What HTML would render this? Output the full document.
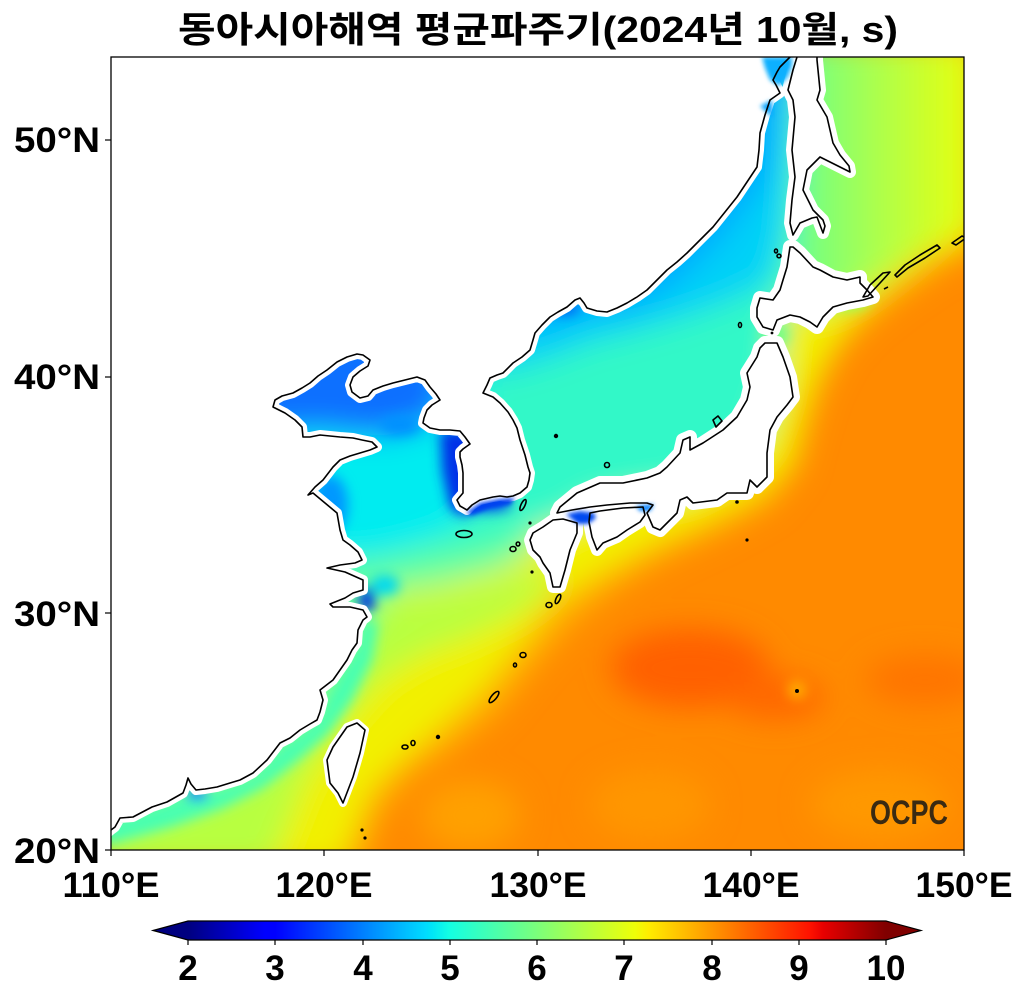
<!DOCTYPE html>
<html><head><meta charset="utf-8"><style>html,body{margin:0;padding:0;background:#fff}svg{display:block}</style></head>
<body>
<svg width="1025" height="1000" viewBox="0 0 1025 1000" xmlns="http://www.w3.org/2000/svg" font-family="'Liberation Sans','Noto Sans CJK KR',sans-serif">
<defs>
<clipPath id="plot"><rect x="111" y="57" width="853" height="793"/></clipPath>
<filter id="bigblur" filterUnits="userSpaceOnUse" x="0" y="0" width="1025" height="1000"><feGaussianBlur stdDeviation="15"/></filter>
<filter id="midblur" filterUnits="userSpaceOnUse" x="0" y="0" width="1025" height="1000"><feGaussianBlur stdDeviation="6"/></filter>
<filter id="smblur" filterUnits="userSpaceOnUse" x="0" y="0" width="1025" height="1000"><feGaussianBlur stdDeviation="2"/></filter>
<linearGradient id="okh" gradientUnits="userSpaceOnUse" x1="800" y1="0" x2="964" y2="0">
<stop offset="0" stop-color="#70ff84"/><stop offset="0.5" stop-color="#b0ff48"/><stop offset="1" stop-color="#e4ff10"/></linearGradient>
<linearGradient id="jet" x1="0" y1="0" x2="1" y2="0">
<stop offset="0" stop-color="#000080"/><stop offset="0.11" stop-color="#0000ff"/><stop offset="0.125" stop-color="#0000ff"/>
<stop offset="0.34" stop-color="#00dbff"/><stop offset="0.35" stop-color="#00e6f7"/><stop offset="0.375" stop-color="#14ffe2"/>
<stop offset="0.5" stop-color="#7bff7b"/><stop offset="0.64" stop-color="#eeff08"/><stop offset="0.66" stop-color="#ffec00"/>
<stop offset="0.89" stop-color="#ff1300"/><stop offset="0.91" stop-color="#e80000"/><stop offset="1" stop-color="#800000"/>
</linearGradient>
</defs>

<text x="538" y="42" text-anchor="middle" font-size="36" font-weight="bold" textLength="720" lengthAdjust="spacingAndGlyphs">동아시아해역 평균파주기(2024년 10월, s)</text>

<g clip-path="url(#plot)">
<rect x="111" y="57" width="853" height="793" fill="#ff8a00"/>
<g filter="url(#bigblur)">
<ellipse cx="690" cy="668" rx="80" ry="40" fill="#ff6000"/>
<ellipse cx="775" cy="698" rx="50" ry="22" fill="#ff6800"/>
<ellipse cx="925" cy="680" rx="60" ry="25" fill="#ff7400"/>
<ellipse cx="470" cy="815" rx="50" ry="35" fill="#ffa000"/>
<ellipse cx="650" cy="805" rx="60" ry="35" fill="#ff9600"/>
<ellipse cx="880" cy="805" rx="70" ry="35" fill="#ff9800"/>
<polygon fill="#ffb000" points="90,40 980,40 980,248 940,268 900,295 865,322 840,350 820,390 808,430 798,470 770,505 720,532 660,560 612,590 570,625 535,665 498,712 450,750 410,775 380,815 360,870 90,870"/>
<polygon fill="#f2f000" points="90,40 980,40 980,235 930,258 890,287 858,318 835,345 815,380 802,420 792,460 762,492 712,518 652,545 597,575 555,600 522,642 480,692 440,728 405,758 370,790 340,870 90,870"/>
<polygon fill="#b8ff40" points="90,560 340,590 400,600 470,590 540,570 560,580 520,612 470,636 420,655 380,680 345,720 305,780 270,870 90,870"/>
<polygon fill="url(#okh)" points="785,40 980,40 980,222 935,245 895,270 860,292 830,305 800,312 785,300"/>
<polygon fill="#60ffa0" points="90,540 350,540 420,550 520,530 540,545 500,570 440,585 390,592 365,620 350,660 330,700 300,735 260,770 200,800 140,820 90,830"/>
<polygon fill="#30f8c8" points="90,40 800,40 797,200 792,260 780,330 775,390 758,440 720,470 680,490 640,495 600,502 570,520 545,530 505,535 470,545 420,552 370,562 330,560 90,560"/>
<polygon fill="#00ecf0" points="90,300 300,300 480,380 485,450 478,500 450,530 405,548 362,558 330,556 90,556"/>
<polygon fill="#00d0f8" points="470,40 795,40 792,150 785,230 770,280 730,300 680,318 630,332 590,342 550,358 500,372 470,362"/>
<polygon fill="#00aaff" points="520,40 790,40 782,110 766,180 720,240 674,284 630,310 586,314 556,326 520,330"/>
<polygon fill="#0a70ff" points="240,330 380,330 445,360 448,405 425,426 385,436 350,434 318,430 298,432 240,432"/>
</g>
<g filter="url(#midblur)">
<polygon fill="#48ffb0" points="105,822 120,818 152,807 183,795 217,789 253,775 280,746 300,732 320,714 326,698 340,672 357,645 362,620 378,622 372,660 352,700 328,734 298,760 262,788 222,808 172,826 122,840 105,845"/>
<ellipse cx="400" cy="425" rx="20" ry="10" fill="#0090ff"/>
<polygon fill="#0030e8" points="440,430 500,430 500,505 462,516 450,508 442,470"/>
<ellipse cx="487" cy="505" rx="25" ry="7" fill="#0050f0"/>
<ellipse cx="330" cy="505" rx="18" ry="30" fill="#0098ff"/>
<ellipse cx="367" cy="600" rx="8" ry="13" fill="#0030e0"/>
<ellipse cx="385" cy="585" rx="14" ry="10" fill="#00d8f0"/>
<ellipse cx="197" cy="794" rx="11" ry="6" fill="#0060ff"/>
<ellipse cx="565" cy="308" rx="14" ry="6" fill="#0058f0"/>
<ellipse cx="775" cy="335" rx="14" ry="10" fill="#70ff80"/>
<ellipse cx="850" cy="300" rx="20" ry="10" fill="#98ff58"/>
<ellipse cx="797" cy="690" rx="9" ry="9" fill="#ffb000"/>
</g>

<g fill="#fff" stroke="#fff" stroke-linejoin="round">
<polygon stroke-width="10" points="105,835 111,830 115,827 120,818 133,817 152,807 167,802 183,793 186,785 188,778 191,784 196,790 205,789 217,787 230,783 240,780 253,773 267,760 280,743 290,738 300,730 310,724 317,720 320,712 323,700 320,690 333,680 340,670 347,660 352,650 357,643 358,630 363,620 367,617 363,610 350,607 333,607 330,604 345,598 353,593 363,590 363,580 345,572 327,568 340,565 355,563 362,560 358,552 350,545 343,540 340,530 337,513 325,503 313,493 308,495 315,487 323,480 333,467 340,460 350,456 360,453 370,450 377,447 372,442 362,440 353,438 340,437 330,436 320,435 310,437 303,437 302,427 295,420 285,413 273,407 275,400 282,396 293,393 302,388 310,383 318,376 327,370 337,362 347,357 357,354 363,355 370,360 368,366 360,371 353,377 350,385 352,392 360,398 368,396 373,390 383,386 393,383 405,380 417,377 425,380 430,387 436,394 440,400 432,405 427,410 424,418 423,423 430,428 440,430 450,430 460,431 465,437 470,444 463,449 460,452 460,457 462,465 463,473 463,483 463,493 457,500 460,506 467,510 472,505 480,500 493,497 500,496 507,497 513,496 520,493 527,487 529,480 530,473 528,467 527,463 525,455 520,440 517,428 513,420 508,412 500,403 493,397 483,393 487,385 490,378 497,375 503,373 513,363 522,357 530,350 533,340 535,333 542,325 550,317 558,312 567,307 575,300 580,298 584,303 587,308 597,311 607,312 617,308 627,303 637,297 647,290 657,280 667,270 677,262 687,253 700,240 713,227 725,212 737,197 747,182 757,167 759,150 760,133 765,115 770,100 780,93 776,85 773,80 777,72 780,67 785,62 790,57 791,40 95,40 95,840"/>
<polygon stroke-width="12" points="797,45 797,57 793,70 788,90 793,100 795,117 792,150 795,177 792,200 790,223 793,235 800,223 812,218 817,217 823,233 825,226 823,220 813,210 803,190 807,170 820,157 850,172 849,166 840,155 833,143 827,117 817,100 820,90 817,60 817,45"/>
<polygon stroke-width="14" points="790,247 787,267 783,280 780,290 773,300 760,298 757,308 757,317 763,327 773,330 777,320 790,315 800,317 810,322 817,327 823,317 833,307 847,303 863,300 873,297 867,290 860,283 860,277 847,280 833,277 820,270 813,267 800,253 793,247"/>
<polygon stroke-width="14" points="760,348 765,343 777,343 783,357 790,377 793,397 787,405 777,417 770,430 767,453 767,477 757,487 750,480 747,493 737,493 727,493 717,500 693,503 687,497 680,500 677,513 670,520 660,530 653,527 647,513 653,505 647,503 630,503 607,505 590,507 572,510 557,513 560,507 577,493 600,483 623,483 647,478 660,473 667,467 680,453 683,440 690,437 690,450 703,443 723,430 737,417 747,400 750,387 747,373 757,357"/>
<polygon stroke-width="12" points="590,513 600,511 623,508 643,507 645,515 640,522 627,530 617,537 603,543 597,550 592,537 589,522"/>
<polygon stroke-width="12" points="553,520 563,519 577,523 577,533 570,550 565,570 560,587 553,587 550,573 543,563 540,557 533,550 530,540 533,533 543,527"/>
<polygon stroke-width="8" points="357,723 365,730 360,753 353,777 343,803 338,793 330,783 327,760 333,747 347,727"/>
</g>

<g filter="url(#smblur)">
<polygon fill="#10b0ff" points="762,57 792,57 792,66 787,78 779,86 770,80 765,68"/>
<polygon fill="#10a8ff" points="760,106 772,100 773,118"/>
<polygon fill="#0048f0" points="566,514 580,511 594,513 596,518 588,524 578,524"/>
<polygon fill="#0080ff" points="636,506 654,504 650,511 640,511"/>
<polygon fill="#0040f0" points="466,513 480,503 500,499 515,498 510,505 490,508 472,515"/>
</g>

<g fill="none" stroke="#000" stroke-width="1.6" stroke-linejoin="round">
<polyline points="105,835 111,830 115,827 120,818 133,817 152,807 167,802 183,793 186,785 188,778 191,784 196,790 205,789 217,787 230,783 240,780 253,773 267,760 280,743 290,738 300,730 310,724 317,720 320,712 323,700 320,690 333,680 340,670 347,660 352,650 357,643 358,630 363,620 367,617 363,610 350,607 333,607 330,604 345,598 353,593 363,590 363,580 345,572 327,568 340,565 355,563 362,560 358,552 350,545 343,540 340,530 337,513 325,503 313,493 308,495 315,487 323,480 333,467 340,460 350,456 360,453 370,450 377,447 372,442 362,440 353,438 340,437 330,436 320,435 310,437 303,437 302,427 295,420 285,413 273,407 275,400 282,396 293,393 302,388 310,383 318,376 327,370 337,362 347,357 357,354 363,355 370,360 368,366 360,371 353,377 350,385 352,392 360,398 368,396 373,390 383,386 393,383 405,380 417,377 425,380 430,387 436,394 440,400 432,405 427,410 424,418 423,423 430,428 440,430 450,430 460,431 465,437 470,444 463,449 460,452 460,457 462,465 463,473 463,483 463,493 457,500 460,506 467,510 472,505 480,500 493,497 500,496 507,497 513,496 520,493 527,487 529,480 530,473 528,467 527,463 525,455 520,440 517,428 513,420 508,412 500,403 493,397 483,393 487,385 490,378 497,375 503,373 513,363 522,357 530,350 533,340 535,333 542,325 550,317 558,312 567,307 575,300 580,298 584,303 587,308 597,311 607,312 617,308 627,303 637,297 647,290 657,280 667,270 677,262 687,253 700,240 713,227 725,212 737,197 747,182 757,167 759,150 760,133 765,115 770,100 780,93 776,85 773,80 777,72 780,67 785,62 790,57 791,40"/>
<polyline points="797,45 797,57 793,70 788,90 793,100 795,117 792,150 795,177 792,200 790,223 793,235 800,223 812,218 817,217 823,233 825,226 823,220 813,210 803,190 807,170 820,157 850,172 849,166 840,155 833,143 827,117 817,100 820,90 817,60 817,45"/>
<polygon points="790,247 787,267 783,280 780,290 773,300 760,298 757,308 757,317 763,327 773,330 777,320 790,315 800,317 810,322 817,327 823,317 833,307 847,303 863,300 873,297 867,290 860,283 860,277 847,280 833,277 820,270 813,267 800,253 793,247"/>
<polygon points="760,348 765,343 777,343 783,357 790,377 793,397 787,405 777,417 770,430 767,453 767,477 757,487 750,480 747,493 737,493 727,493 717,500 693,503 687,497 680,500 677,513 670,520 660,530 653,527 647,513 653,505 647,503 630,503 607,505 590,507 572,510 557,513 560,507 577,493 600,483 623,483 647,478 660,473 667,467 680,453 683,440 690,437 690,450 703,443 723,430 737,417 747,400 750,387 747,373 757,357"/>
<polygon points="590,513 600,511 623,508 643,507 645,515 640,522 627,530 617,537 603,543 597,550 592,537 589,522"/>
<polygon points="553,520 563,519 577,523 577,533 570,550 565,570 560,587 553,587 550,573 543,563 540,557 533,550 530,540 533,533 543,527"/>
<polygon points="357,723 365,730 360,753 353,777 343,803 338,793 330,783 327,760 333,747 347,727"/>
<polygon points="863,297 870,285 883,273 890,272 880,283 868,296"/>
<polygon points="895,275 905,265 920,255 937,245 940,248 925,258 908,268 897,277"/>
<polygon points="952,243 962,236 966,238 956,245"/>
<polyline points="884,289 888,287"/>
<ellipse cx="464" cy="534" rx="8" ry="3.5"/>
<ellipse cx="523" cy="505" rx="2" ry="6" transform="rotate(25 523 505)"/>
<ellipse cx="513" cy="549" rx="3" ry="2.5"/>
<ellipse cx="518" cy="544" rx="1.8" ry="2"/>
<ellipse cx="549" cy="605" rx="3" ry="2.5"/>
<ellipse cx="558" cy="599" rx="2" ry="5" transform="rotate(25 558 599)"/>
<ellipse cx="607" cy="465" rx="2.5" ry="2.5"/>
<polygon points="713,420 718,416 722,421 716,427"/>
<ellipse cx="523" cy="655" rx="3" ry="2.5"/>
<ellipse cx="515" cy="665" rx="1.5" ry="2"/>
<ellipse cx="494" cy="697" rx="2.5" ry="7" transform="rotate(40 494 697)"/>
<ellipse cx="405" cy="747" rx="3" ry="2"/>
<ellipse cx="413" cy="743" rx="2" ry="2.5"/>
<ellipse cx="740" cy="325" rx="1.5" ry="2.5"/>
<ellipse cx="776" cy="251" rx="1.5" ry="2"/>
<ellipse cx="779" cy="256" rx="2" ry="1.8"/>
</g>
<g fill="#000">
<circle cx="556" cy="436" r="2.2"/>
<circle cx="530" cy="523" r="1.6"/>
<circle cx="532" cy="572" r="1.6"/>
<circle cx="438" cy="737" r="2.2"/>
<circle cx="737" cy="502" r="1.8"/>
<circle cx="747" cy="540" r="1.6"/>
<circle cx="797" cy="691" r="2"/>
<circle cx="362" cy="830" r="1.6"/>
<circle cx="365" cy="838" r="1.6"/>
<circle cx="772" cy="333" r="1.4"/>
</g>
<text x="909" y="824" text-anchor="middle" font-size="34" font-weight="bold" fill="#3a2a12" textLength="78" lengthAdjust="spacingAndGlyphs">OCPC</text>
</g>

<rect x="111" y="57" width="853" height="793" fill="none" stroke="#000" stroke-width="1.3"/>
<g stroke="#000" stroke-width="1.2">
<line x1="105" y1="140" x2="111" y2="140"/><line x1="105" y1="377" x2="111" y2="377"/>
<line x1="105" y1="613" x2="111" y2="613"/><line x1="105" y1="850" x2="111" y2="850"/>
<line x1="111" y1="850" x2="111" y2="856"/><line x1="324" y1="850" x2="324" y2="856"/>
<line x1="538" y1="850" x2="538" y2="856"/><line x1="751" y1="850" x2="751" y2="856"/>
<line x1="964" y1="850" x2="964" y2="856"/>
</g>
<g font-size="35" font-weight="bold" fill="#000">
<text x="100" y="152" text-anchor="end" textLength="86" lengthAdjust="spacingAndGlyphs">50°N</text>
<text x="100" y="389" text-anchor="end" textLength="86" lengthAdjust="spacingAndGlyphs">40°N</text>
<text x="100" y="626" text-anchor="end" textLength="86" lengthAdjust="spacingAndGlyphs">30°N</text>
<text x="100" y="863" text-anchor="end" textLength="86" lengthAdjust="spacingAndGlyphs">20°N</text>
<text x="111" y="897" text-anchor="middle" textLength="97" lengthAdjust="spacingAndGlyphs">110°E</text>
<text x="324" y="897" text-anchor="middle" textLength="97" lengthAdjust="spacingAndGlyphs">120°E</text>
<text x="538" y="897" text-anchor="middle" textLength="97" lengthAdjust="spacingAndGlyphs">130°E</text>
<text x="751" y="897" text-anchor="middle" textLength="97" lengthAdjust="spacingAndGlyphs">140°E</text>
<text x="964" y="897" text-anchor="middle" textLength="97" lengthAdjust="spacingAndGlyphs">150°E</text>
</g>

<polygon points="188,921 153,930.5 188,940" fill="#000080"/>
<polygon points="886,921 921,930.5 886,940" fill="#800000"/>
<rect x="188" y="921" width="698" height="19" fill="url(#jet)"/>
<polygon points="153,930.5 188,921 886,921 921,930.5 886,940 188,940" fill="none" stroke="#000" stroke-width="1.2"/>
<g stroke="#000" stroke-width="1.2">
<line x1="188" y1="940" x2="188" y2="945"/><line x1="275" y1="940" x2="275" y2="945"/>
<line x1="363" y1="940" x2="363" y2="945"/><line x1="450" y1="940" x2="450" y2="945"/>
<line x1="537" y1="940" x2="537" y2="945"/><line x1="624" y1="940" x2="624" y2="945"/>
<line x1="712" y1="940" x2="712" y2="945"/><line x1="799" y1="940" x2="799" y2="945"/>
<line x1="886" y1="940" x2="886" y2="945"/>
</g>
<g font-size="35" font-weight="bold" fill="#000" text-anchor="middle">
<text x="188" y="980">2</text><text x="275" y="980">3</text><text x="363" y="980">4</text>
<text x="450" y="980">5</text><text x="537" y="980">6</text><text x="624" y="980">7</text>
<text x="712" y="980">8</text><text x="799" y="980">9</text><text x="886" y="980">10</text>
</g>
</svg>
</body></html>
